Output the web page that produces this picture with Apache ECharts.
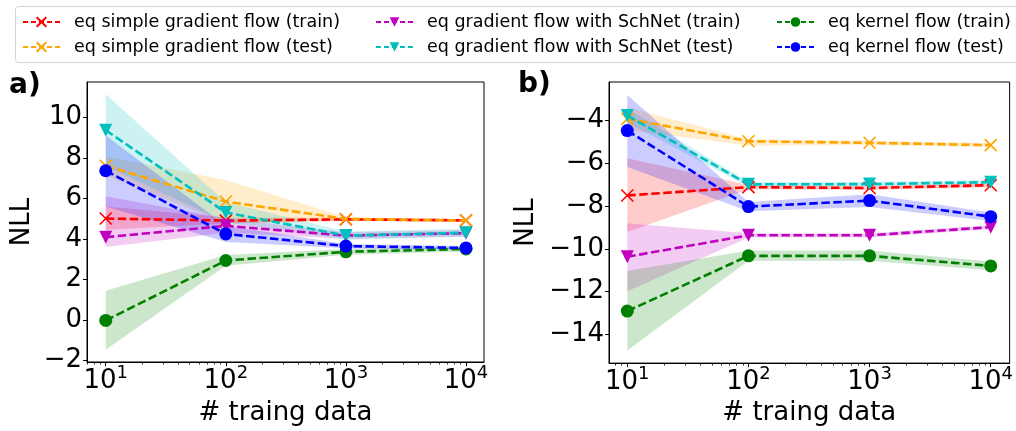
<!DOCTYPE html>
<html>
<head>
<meta charset="utf-8">
<script src="https://cdn.jsdelivr.net/npm/echarts@6/dist/echarts.min.js"></script>
<style>
html,body{margin:0;padding:0;background:#fff;}
#chart{width:1016px;height:431px;}
</style>
</head>
<body>
<div id="chart"></div>
<script>
// ---------- data ----------
const XS = [10, 100, 1000, 10000];            // # training data
const X_EXPONENTS = [1, 2, 3, 4];              // major tick labels 10^k
const A_Y_TICKS = [-2, 0, 2, 4, 6, 8, 10];
const B_Y_TICKS = [-14, -12, -10, -8, -6, -4];

const NAMES = [
  'eq simple gradient flow (train)',
  'eq simple gradient flow (test)',
  'eq gradient flow with SchNet (train)',
  'eq gradient flow with SchNet (test)',
  'eq kernel flow (train)',
  'eq kernel flow (test)'
];

// panel a)
const A_SIMPLE_TRAIN = [5.00, 4.90, 4.96, 4.91];
const A_SIMPLE_TRAIN_LO = [4.45, 4.75, 4.88, 4.84];
const A_SIMPLE_TRAIN_HI = [5.60, 5.05, 5.04, 4.98];
const A_SIMPLE_TEST = [7.60, 5.84, 4.98, 4.90];
const A_SIMPLE_TEST_LO = [7.14, 4.80, 4.90, 4.83];
const A_SIMPLE_TEST_HI = [8.06, 6.90, 5.06, 4.97];
const A_SCHNET_TRAIN = [4.08, 4.64, 4.16, 4.28];
const A_SCHNET_TRAIN_LO = [3.60, 4.30, 4.00, 4.12];
const A_SCHNET_TRAIN_HI = [6.10, 5.00, 4.32, 4.44];
const A_SCHNET_TEST = [9.36, 5.30, 4.16, 4.30];
const A_SCHNET_TEST_LO = [7.60, 4.80, 3.96, 4.10];
const A_SCHNET_TEST_HI = [11.13, 5.80, 4.36, 4.50];
const A_KERNEL_TRAIN = [-0.03, 2.93, 3.36, 3.50];
const A_KERNEL_TRAIN_LO = [-1.47, 2.67, 3.21, 3.38];
const A_KERNEL_TRAIN_HI = [1.44, 3.20, 3.50, 3.62];
const A_KERNEL_TEST = [7.36, 4.24, 3.64, 3.55];
const A_KERNEL_TEST_LO = [5.60, 3.84, 3.54, 3.45];
const A_KERNEL_TEST_HI = [9.10, 4.64, 3.74, 3.65];

// panel b)
const B_SIMPLE_TRAIN = [-7.51, -7.12, -7.16, -7.03];
const B_SIMPLE_TRAIN_LO = [-9.22, -7.22, -7.26, -7.13];
const B_SIMPLE_TRAIN_HI = [-5.77, -7.02, -7.06, -6.93];
const B_SIMPLE_TEST = [-3.93, -4.98, -5.05, -5.16];
const B_SIMPLE_TEST_LO = [-4.45, -5.18, -5.15, -5.26];
const B_SIMPLE_TEST_HI = [-3.39, -4.88, -4.95, -5.06];
const B_SCHNET_TRAIN = [-10.37, -9.37, -9.37, -8.99];
const B_SCHNET_TRAIN_LO = [-11.98, -9.47, -9.47, -9.09];
const B_SCHNET_TRAIN_HI = [-8.81, -9.27, -9.27, -8.89];
const B_SCHNET_TEST = [-3.78, -6.99, -6.98, -6.89];
const B_SCHNET_TEST_LO = [-4.10, -7.10, -7.08, -6.99];
const B_SCHNET_TEST_HI = [-3.46, -6.88, -6.88, -6.79];
const B_KERNEL_TRAIN = [-12.91, -10.33, -10.33, -10.80];
const B_KERNEL_TRAIN_LO = [-14.75, -10.56, -10.56, -11.00];
const B_KERNEL_TRAIN_HI = [-11.04, -10.08, -10.08, -10.60];
const B_KERNEL_TEST = [-4.48, -8.03, -7.75, -8.50];
const B_KERNEL_TEST_LO = [-6.18, -8.25, -8.05, -8.70];
const B_KERNEL_TEST_HI = [-2.82, -7.81, -7.45, -8.30];

// ---------- styling ----------
const FONT = 'DejaVu Sans';
const TICK_FS = 26;
const SUP_FS = 18;
const NAME_FS = 26;
const COLORS = ['#ff0000', '#ffa500', '#bf00bf', '#00bfbf', '#008000', '#0000ff'];
const FILLS = ['rgba(255,0,0,0.2)', 'rgba(255,165,0,0.2)', 'rgba(191,0,191,0.2)',
               'rgba(0,191,191,0.2)', 'rgba(0,128,0,0.2)', 'rgba(0,0,255,0.2)'];
const XMARK = 'path://M0,0L10,10M10,0L0,10';
const SYMBOLS = [XMARK, XMARK, 'triangle', 'triangle', 'circle', 'circle'];
const ROT = [0, 0, 180, 180, 0, 0];
const SIZES = [12, 12, 13, 13, 13, 13];

const PANEL_A = [
  [A_SIMPLE_TRAIN, A_SIMPLE_TRAIN_LO, A_SIMPLE_TRAIN_HI],
  [A_SIMPLE_TEST, A_SIMPLE_TEST_LO, A_SIMPLE_TEST_HI],
  [A_SCHNET_TRAIN, A_SCHNET_TRAIN_LO, A_SCHNET_TRAIN_HI],
  [A_SCHNET_TEST, A_SCHNET_TEST_LO, A_SCHNET_TEST_HI],
  [A_KERNEL_TRAIN, A_KERNEL_TRAIN_LO, A_KERNEL_TRAIN_HI],
  [A_KERNEL_TEST, A_KERNEL_TEST_LO, A_KERNEL_TEST_HI]
];
const PANEL_B = [
  [B_SIMPLE_TRAIN, B_SIMPLE_TRAIN_LO, B_SIMPLE_TRAIN_HI],
  [B_SIMPLE_TEST, B_SIMPLE_TEST_LO, B_SIMPLE_TEST_HI],
  [B_SCHNET_TRAIN, B_SCHNET_TRAIN_LO, B_SCHNET_TRAIN_HI],
  [B_SCHNET_TEST, B_SCHNET_TEST_LO, B_SCHNET_TEST_HI],
  [B_KERNEL_TRAIN, B_KERNEL_TRAIN_LO, B_KERNEL_TRAIN_HI],
  [B_KERNEL_TEST, B_KERNEL_TEST_LO, B_KERNEL_TEST_HI]
];

const LX = XS.map(v => Math.log10(v));
const MINOR = [];
for (let d = 0; d <= 4; d++) for (let k = 2; k <= 9; k++) MINOR.push(Math.log10(k * Math.pow(10, d)));

function minusFmt(v) { return v < 0 ? '\u2212' + Math.abs(v) : String(v); }

function xAxes(gridIndex, min, max, nameGap) {
  const inRange = MINOR.filter(v => v >= min && v <= max);
  return [
    {
      type: 'value', gridIndex, min, max, position: 'bottom',
      axisLine: { show: true, onZero: false, lineStyle: { color: '#000', width: 1 } },
      splitLine: { show: false },
      axisTick: { show: true, length: 4, customValues: X_EXPONENTS, lineStyle: { color: '#000', width: 1 } },
      axisLabel: {
        show: true, margin: 6, customValues: X_EXPONENTS,
        formatter: v => '{b|10}{s|' + Math.round(v) + '}',
        rich: {
          b: { fontFamily: FONT, fontSize: TICK_FS, color: '#000', verticalAlign: 'bottom', lineHeight: 26 },
          s: { fontFamily: FONT, fontSize: SUP_FS, color: '#000', verticalAlign: 'bottom', lineHeight: 18, padding: [0, 0, 12, 0] }
        }
      },
      name: '# traing data', nameLocation: 'middle', nameGap,
      nameTextStyle: { fontFamily: FONT, fontSize: NAME_FS, color: '#000', verticalAlign: 'top' }
    },
    {
      type: 'value', gridIndex, min, max, position: 'bottom',
      axisLine: { show: false, onZero: false },
      splitLine: { show: false },
      axisTick: { show: true, length: 2.5, customValues: inRange, lineStyle: { color: '#000', width: 0.8 } },
      axisLabel: { show: true, customValues: inRange, formatter: () => '' }
    }
  ];
}

function yAxis(gridIndex, min, max, ticks, nameGap) {
  return {
    type: 'value', gridIndex, min, max,
    axisLine: { show: true, lineStyle: { color: '#000', width: 1 } },
    splitLine: { show: false },
    axisTick: { show: true, length: 4, customValues: ticks, lineStyle: { color: '#000', width: 1 } },
    axisLabel: { show: true, margin: 5, customValues: ticks, formatter: minusFmt,
      fontFamily: FONT, fontSize: TICK_FS, color: '#000' },
    name: 'NLL', nameLocation: 'middle', nameGap,
    nameTextStyle: { fontFamily: FONT, fontSize: NAME_FS, color: '#000' }
  };
}

const series = [];
function addPanel(panel, gi) {
  panel.forEach((s, i) => {
    const lo = s[1], hi = s[2];
    series.push({
      type: 'custom', name: 'band' + gi + '_' + i, xAxisIndex: gi * 2, yAxisIndex: gi,
      silent: true, z: 1, clip: true,
      data: LX.map((x, j) => [x, s[0][j]]),
      renderItem: (params, api) => {
        if (params.dataIndex !== 0) return null;
        const pts = [];
        for (let j = 0; j < LX.length; j++) pts.push(api.coord([LX[j], hi[j]]));
        for (let j = LX.length - 1; j >= 0; j--) pts.push(api.coord([LX[j], lo[j]]));
        return { type: 'polygon', shape: { points: pts }, style: { fill: FILLS[i], stroke: null } };
      }
    });
  });
  panel.forEach((s, i) => {
    series.push({
      type: 'line', name: NAMES[i], xAxisIndex: gi * 2, yAxisIndex: gi, z: 3 + i,
      data: LX.map((x, j) => [x, s[0][j]]),
      symbol: SYMBOLS[i], symbolSize: SIZES[i], symbolRotate: ROT[i], showAllSymbol: true,
      lineStyle: { color: COLORS[i], width: 2.6, type: [8.5, 3.5] },
      itemStyle: { color: SYMBOLS[i] === XMARK ? 'rgba(0,0,0,0)' : COLORS[i], borderColor: COLORS[i],
                   borderWidth: SYMBOLS[i] === XMARK ? 1.6 : 0, opacity: 1 },
      emphasis: { disabled: true }
    });
  });
}
addPanel(PANEL_A, 0);
addPanel(PANEL_B, 1);

function legend(left, names) {
  return {
    orient: 'vertical', left, top: 12, padding: 0, data: names,
    itemWidth: 37, itemHeight: 12, itemGap: 5,
    selectedMode: false,
    textStyle: { fontFamily: FONT, fontSize: 17.5, color: '#000', lineHeight: 20, padding: [0, 0, 0, 9] },
    lineStyle: { width: 2, type: [5, 3] }
  };
}

const option = {
  animation: false,
  textStyle: { fontFamily: FONT },
  grid: [
    { left: 87, top: 82, width: 397, height: 288, show: true, borderColor: '#000', borderWidth: 1, backgroundColor: 'transparent' },
    { left: 609, top: 82, width: 403, height: 293, show: true, borderColor: '#000', borderWidth: 1, backgroundColor: 'transparent' }
  ],
  xAxis: [...xAxes(0, 0.844, 4.15, 38), ...xAxes(1, 0.849, 4.156, 36)],
  yAxis: [yAxis(0, -2.08, 11.74, A_Y_TICKS, 52), yAxis(1, -15.34, -2.21, B_Y_TICKS, 70)],
  legend: [
    legend(22, [NAMES[0], NAMES[1]]),
    legend(375, [NAMES[2], NAMES[3]]),
    legend(776, [NAMES[4], NAMES[5]])
  ],
  graphic: [
    { type: 'rect', z: -1, shape: { x: 15.5, y: 6.5, width: 1010, height: 56, r: 3 },
      style: { fill: '#fff', stroke: '#d4d4d4', lineWidth: 1 } },
    { type: 'text', left: 9, top: 72, style: { text: 'a)', font: 'bold 28px "DejaVu Sans"', fill: '#000' } },
    { type: 'text', left: 518, top: 71, style: { text: 'b)', font: 'bold 28px "DejaVu Sans"', fill: '#000' } }
  ],
  series
};

const chart = echarts.init(document.getElementById('chart'), null, { renderer: 'canvas' });
chart.setOption(option);
</script>
</body>
</html>
